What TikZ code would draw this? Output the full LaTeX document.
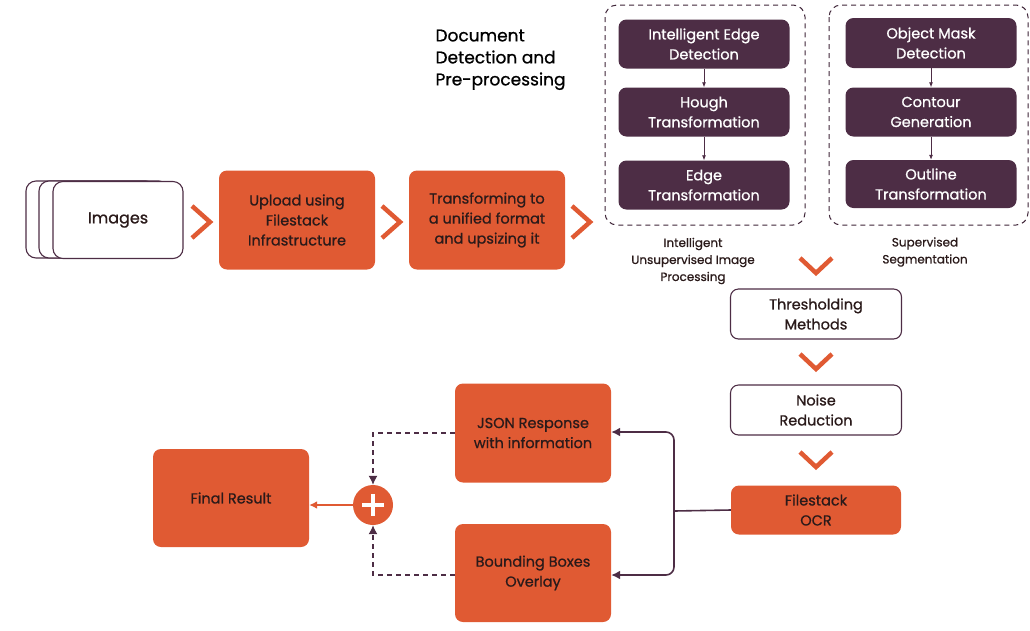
\documentclass[tikz,border=0pt]{standalone}
\usepackage{fontspec}
\setmainfont{Poppins}[UprightFeatures={FakeBold=0.8}]
\usetikzlibrary{arrows.meta}
\definecolor{org}{HTML}{E05A33}
\definecolor{pur}{HTML}{4D2D45}
\definecolor{txt}{HTML}{2A1A1A}
\begin{document}
\begin{tikzpicture}[x=1pt,y=-1pt,
  ob/.style={fill=org,rounded corners=8pt,text=txt,align=center,font=\fontsize{14.5}{20}\selectfont},
  pb/.style={fill=pur,rounded corners=8pt,text=white,align=center,font=\fontsize{14.5}{20}\selectfont},
  wb/.style={draw=pur,line width=1.1pt,fill=white,rounded corners=8pt,text=txt,align=center,font=\fontsize{14.5}{20}\selectfont},
  dbox/.style={draw=pur!80!black,line width=1pt,dash pattern=on 5pt off 4pt,rounded corners=12pt},
  chev/.style={draw=org,line width=4.5pt},
  small/.style={-{Latex[length=5pt,width=4pt]},pur,line width=0.8pt},
  lab/.style={align=center,text=txt,font=\fontsize{12}{17}\selectfont},
  flow/.style={pur,line width=1.6pt,rounded corners=8pt,-{Latex[length=9pt,width=9pt]}},
  dflow/.style={pur,line width=1.2pt,dash pattern=on 5pt off 4pt,-{Latex[length=9pt,width=9pt]}}]
\useasboundingbox (0,0) rectangle (1030,630);
% images stack
\draw[pur,line width=1.1pt,rounded corners=10pt,fill=white] (26,181) rectangle (156,258);
\draw[pur,line width=1.1pt,rounded corners=10pt,fill=white] (39,181) rectangle (169,258);
\node[draw=pur,line width=1.1pt,fill=white,rounded corners=10pt,minimum width=130pt,minimum height=77pt,font=\fontsize{16}{18}\selectfont,text=txt] (img) at (118,220) {Images};
% main row
\node[ob,minimum width=156pt,minimum height=99pt] (up) at (297,220) {Upload using\\Filestack\\Infrastructure};
\node[ob,minimum width=156pt,minimum height=99pt] (tr) at (487,220) {Transforming to\\a unified format\\and upsizing it};
\foreach \x in {192,382,572}{\draw[chev] (\x,206) -- (\x+18,222) -- (\x,238);}
% title
\node[anchor=north west,align=left,text=black,font=\fontsize{17}{22}\selectfont] (title) at (432,26) {Document\\Detection and\\Pre-processing};
% dashed boxes
\draw[dbox] (605,5) rectangle (805,225);
\draw[dbox] (829,5) rectangle (1028,225);
\node[pb,minimum width=171pt,minimum height=49pt] (a1) at (704,44) {Intelligent Edge\\Detection};
\node[pb,minimum width=171pt,minimum height=49pt] (a2) at (704,112) {Hough\\Transformation};
\node[pb,minimum width=171pt,minimum height=49pt] (a3) at (704,185) {Edge\\Transformation};
\node[pb,minimum width=171pt,minimum height=50pt] (b1) at (931,43) {Object Mask\\Detection};
\node[pb,minimum width=171pt,minimum height=49pt] (b2) at (931,112) {Contour\\Generation};
\node[pb,minimum width=171pt,minimum height=48pt] (b3) at (931,184) {Outline\\Transformation};
\draw[small] (a1) -- (a2); \draw[small] (a2) -- (a3);
\draw[small] (b1) -- (b2); \draw[small] (b2) -- (b3);
\node[lab] (l1) at (693,261) {Intelligent\\Unsupervised Image\\Processing};
\node[lab] (l2) at (925,252) {Supervised\\Segmentation};
% vertical chain
\node[wb,minimum width=171pt,minimum height=50pt] (th) at (816,314) {Thresholding\\Methods};
\node[wb,minimum width=171pt,minimum height=50pt] (nr) at (816,410) {Noise\\Reduction};
\node[ob,minimum width=170pt,minimum height=49pt] (ocr) at (816,510) {Filestack\\OCR};
\foreach \y in {258,354,452}{\draw[chev] (800,\y) -- (816,\y+15) -- (832,\y);}
% bottom
\node[ob,minimum width=156pt,minimum height=99pt] (js) at (533,433) {JSON Response\\with information};
\node[ob,minimum width=156pt,minimum height=98pt] (bb) at (533,573) {Bounding Boxes\\Overlay};
\node[ob,minimum width=156pt,minimum height=98pt] (fin) at (231,498) {Final Result};
\node[circle,fill=org,minimum size=40pt,inner sep=0pt] (pl) at (373,505) {};
\draw[white,line width=4pt] (373,494) -- (373,516) (362,505) -- (384,505);
\coordinate (sp) at (674,511);
\draw[pur,line width=1.6pt] (ocr.west) -- (sp);
\draw[flow] (sp) |- (js.east |- 0,432);
\draw[flow] (sp) |- (bb.east |- 0,575);
\draw[dflow] (js.west |- 0,433) -| (pl.north);
\draw[dflow] (bb.west |- 0,575) -| (pl.south);
\draw[org,line width=2pt,-{Latex[length=8pt,width=8pt]}] (pl.west) -- (fin.east |- pl.west);
\end{tikzpicture}
\end{document}
